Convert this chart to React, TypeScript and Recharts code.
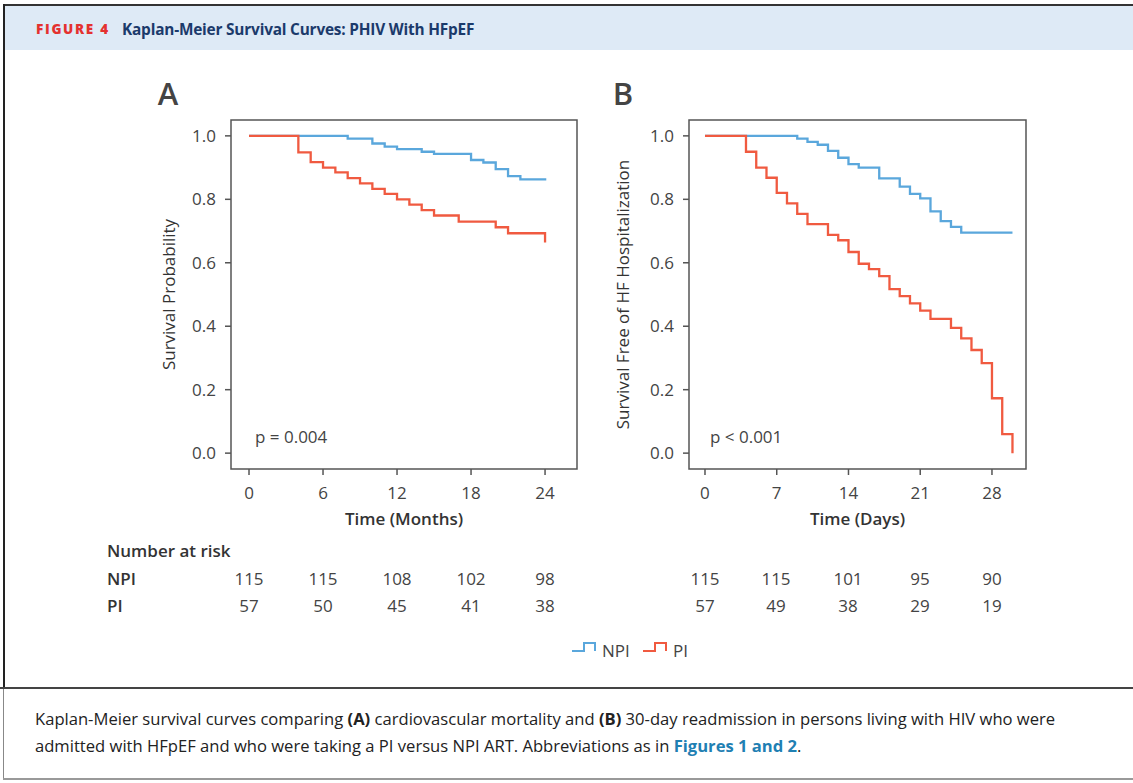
import React from 'react';
import { LineChart, Line, XAxis, YAxis, ReferenceArea } from 'recharts';

const FONT = '"Open Sans", "Noto Sans", sans-serif';
const BLUE = '#5aa7dc';
const RED = '#f05a40';
const INK = '#444';

// Panel A: cardiovascular mortality, months
const monthTicks = [0, 6, 12, 18, 24];
const npiMonths = [0, 8, 10, 11, 12, 14, 15, 18, 19, 20, 21, 22, 24.1];
const npiSurvA = [1.0, 0.991, 0.976, 0.966, 0.958, 0.95, 0.943, 0.924, 0.916, 0.895, 0.873, 0.863, 0.863];
const piMonths = [0, 4, 5, 6, 7, 8, 9, 10, 11, 12, 13, 14, 15, 17, 20, 21, 24];
const piSurvA = [1.0, 0.948, 0.917, 0.9, 0.885, 0.867, 0.85, 0.833, 0.817, 0.8, 0.783, 0.766, 0.749, 0.73, 0.712, 0.693, 0.664];

// Panel B: 30-day readmission, days
const dayTicks = [0, 7, 14, 21, 28];
const npiDays = [0, 9, 10, 11, 12, 13, 14, 15, 17, 19, 20, 21, 22, 23, 24, 25, 30];
const npiSurvB = [1.0, 0.991, 0.981, 0.972, 0.953, 0.931, 0.911, 0.9, 0.866, 0.84, 0.817, 0.803, 0.762, 0.731, 0.713, 0.695, 0.695];
const piDays = [0, 4, 5, 6, 7, 8, 9, 10, 12, 13, 14, 15, 16, 17, 18, 19, 20, 21, 22, 24, 25, 26, 27, 28, 29, 30];
const piSurvB = [1.0, 0.95, 0.9, 0.868, 0.82, 0.787, 0.754, 0.722, 0.688, 0.671, 0.634, 0.597, 0.58, 0.558, 0.517, 0.495, 0.472, 0.449, 0.423, 0.395, 0.362, 0.325, 0.284, 0.173, 0.06, 0.0];

const survTicks = [0, 0.2, 0.4, 0.6, 0.8, 1.0];

const riskNpiA = [115, 115, 108, 102, 98];
const riskPiA = [57, 50, 45, 41, 38];
const riskNpiB = [115, 115, 101, 95, 90];
const riskPiB = [57, 49, 38, 29, 19];

const zip = (t: number[], s: number[]) => t.map((x, i) => ({ t: x, s: s[i] }));

type PanelProps = {
  left: number;
  yWidth: number;
  right: number;
  xDomain: [number, number];
  xTicks: number[];
  xLabel: string;
  yLabel: string;
  yLabelDx: number;
  npi: { t: number; s: number }[];
  pi: { t: number; s: number }[];
};

const tickStyle = { fill: INK, fontSize: 17, fontFamily: FONT };

const Panel = ({ left, yWidth, right, xDomain, xTicks, xLabel, yLabel, yLabelDx, npi, pi }: PanelProps) => (
  <div style={{ position: 'absolute', left, top: 110 }}>
    <LineChart width={450} height={420} margin={{ top: 10, right, bottom: 21, left: 0 }}>
      <XAxis
        type="number"
        dataKey="t"
        domain={xDomain}
        ticks={xTicks}
        allowDataOverflow
        axisLine={false}
        tickLine={{ stroke: '#555', strokeWidth: 1.5 }}
        tickSize={6}
        tickMargin={12}
        tick={tickStyle}
        height={40}
        label={{ value: xLabel, position: 'bottom', offset: 4, style: { fill: '#333', fontSize: 17, fontWeight: 600, fontFamily: FONT } }}
      />
      <YAxis
        type="number"
        domain={[-0.05, 1.05]}
        ticks={survTicks}
        allowDataOverflow
        axisLine={false}
        tickLine={{ stroke: '#555', strokeWidth: 1.5 }}
        tickSize={6}
        tickMargin={9}
        tick={tickStyle}
        tickFormatter={(v: number) => v.toFixed(1)}
        width={yWidth}
        label={{ value: yLabel, angle: -90, position: 'center', dx: yLabelDx, style: { fill: '#333', fontSize: 17, fontWeight: 500, fontFamily: FONT, textAnchor: 'middle' } }}
      />
      <Line data={npi} dataKey="s" type="stepAfter" stroke={BLUE} strokeWidth={2.3} dot={false} isAnimationActive={false} />
      <Line data={pi} dataKey="s" type="stepAfter" stroke={RED} strokeWidth={2.3} dot={false} isAnimationActive={false} />
      <ReferenceArea x1={xDomain[0]} x2={xDomain[1]} y1={-0.05} y2={1.05} fill="none" stroke="#555" strokeWidth={1.5} ifOverflow="visible" />
    </LineChart>
  </div>
);

const T = ({ x, y, children, style }: { x: number; y: number; children: React.ReactNode; style?: React.CSSProperties }) => (
  <div style={{ position: 'absolute', left: x, top: y, transform: 'translate(-50%, -50%)', whiteSpace: 'nowrap', fontFamily: FONT, ...style }}>
    {children}
  </div>
);

const L = ({ x, y, children, style }: { x: number; y: number; children: React.ReactNode; style?: React.CSSProperties }) => (
  <div style={{ position: 'absolute', left: x, top: y, transform: 'translateY(-50%)', whiteSpace: 'nowrap', fontFamily: FONT, ...style }}>
    {children}
  </div>
);

const StepIcon = ({ color }: { color: string }) => (
  <svg width={26} height={12} style={{ display: 'block' }}>
    <path d="M1,10 H13 V2 H24 V10" fill="none" stroke={color} strokeWidth={2} />
  </svg>
);

const riskCell = { fontSize: 17, color: INK };
const rowLabel = { fontSize: 17, color: '#333', fontWeight: 600 };

export default function App() {
  const xsA = [249, 323, 397, 471, 545];
  const xsB = [705, 776, 848, 920, 992];
  return (
    <div style={{ position: 'absolute', left: 0, top: 0, width: 1133, height: 783, background: '#fff', overflow: 'hidden' }}>
      {/* frame + header */}
      <div style={{ position: 'absolute', left: 3, top: 4, width: 1130, height: 2, background: '#333' }} />
      <div style={{ position: 'absolute', left: 3, top: 4, width: 2, height: 685, background: '#222' }} />
      <div style={{ position: 'absolute', left: 5, top: 6, width: 1128, height: 44, background: '#deeaf6' }} />
      <L x={36} y={29} style={{ color: '#e4312f', fontWeight: 800, fontSize: 13.5, letterSpacing: 1.7 }}>FIGURE 4</L>
      <L x={122} y={29} style={{ color: '#1b3a6b', fontWeight: 700, fontSize: 15.4, letterSpacing: -0.2 }}>
        Kaplan-Meier Survival Curves: PHIV With HFpEF
      </L>

      <T x={168} y={93} style={{ fontSize: 31, color: INK, fontWeight: 600 }}>A</T>
      <T x={623} y={93} style={{ fontSize: 31, color: INK, fontWeight: 600 }}>B</T>

      <Panel
        left={140}
        yWidth={91}
        right={13}
        xDomain={[-1.46, 26.59]}
        xTicks={monthTicks}
        xLabel="Time (Months)"
        yLabel="Survival Probability"
        yLabelDx={-17}
        npi={zip(npiMonths, npiSurvA)}
        pi={zip(piMonths, piSurvA)}
      />
      <Panel
        left={596}
        yWidth={93}
        right={20}
        xDomain={[-1.56, 31.32]}
        xTicks={dayTicks}
        xLabel="Time (Days)"
        yLabel="Survival Free of HF Hospitalization"
        yLabelDx={-20}
        npi={zip(npiDays, npiSurvB)}
        pi={zip(piDays, piSurvB)}
      />

      <L x={255} y={436} style={{ fontSize: 17, color: INK }}>p = 0.004</L>
      <L x={710} y={436} style={{ fontSize: 17, color: INK }}>p &lt; 0.001</L>

      {/* number at risk */}
      <L x={107} y={550} style={{ fontSize: 17, color: '#333', fontWeight: 600 }}>Number at risk</L>
      <L x={107} y={578} style={rowLabel}>NPI</L>
      <L x={107} y={605} style={rowLabel}>PI</L>
      {riskNpiA.map((v, i) => <T key={'na' + i} x={xsA[i]} y={578} style={riskCell}>{v}</T>)}
      {riskPiA.map((v, i) => <T key={'pa' + i} x={xsA[i]} y={605} style={riskCell}>{v}</T>)}
      {riskNpiB.map((v, i) => <T key={'nb' + i} x={xsB[i]} y={578} style={riskCell}>{v}</T>)}
      {riskPiB.map((v, i) => <T key={'pb' + i} x={xsB[i]} y={605} style={riskCell}>{v}</T>)}

      {/* legend */}
      <div style={{ position: 'absolute', left: 571, top: 641 }}><StepIcon color={BLUE} /></div>
      <L x={602} y={650} style={{ fontSize: 17, color: INK }}>NPI</L>
      <div style={{ position: 'absolute', left: 642, top: 641 }}><StepIcon color={RED} /></div>
      <L x={673} y={650} style={{ fontSize: 17, color: INK }}>PI</L>

      {/* caption */}
      <div style={{ position: 'absolute', left: 0, top: 687, width: 1133, height: 2, background: '#444' }} />
      <div style={{ position: 'absolute', left: 3, top: 689, width: 1, height: 90, background: '#888' }} />
      <div style={{ position: 'absolute', left: 3, top: 778, width: 1130, height: 1.5, background: '#999' }} />
      <div style={{ position: 'absolute', left: 35, top: 705, width: 1095, fontFamily: FONT, fontSize: 16.6, lineHeight: '27px', color: '#222' }}>
        Kaplan-Meier survival curves comparing <b>(A)</b> cardiovascular mortality and <b>(B)</b> 30-day readmission in persons living with HIV who were
        <br />
        admitted with HFpEF and who were taking a PI versus NPI ART. Abbreviations as in{' '}
        <b style={{ color: '#1f80b3' }}>Figures 1 and 2</b>.
      </div>
    </div>
  );
}
